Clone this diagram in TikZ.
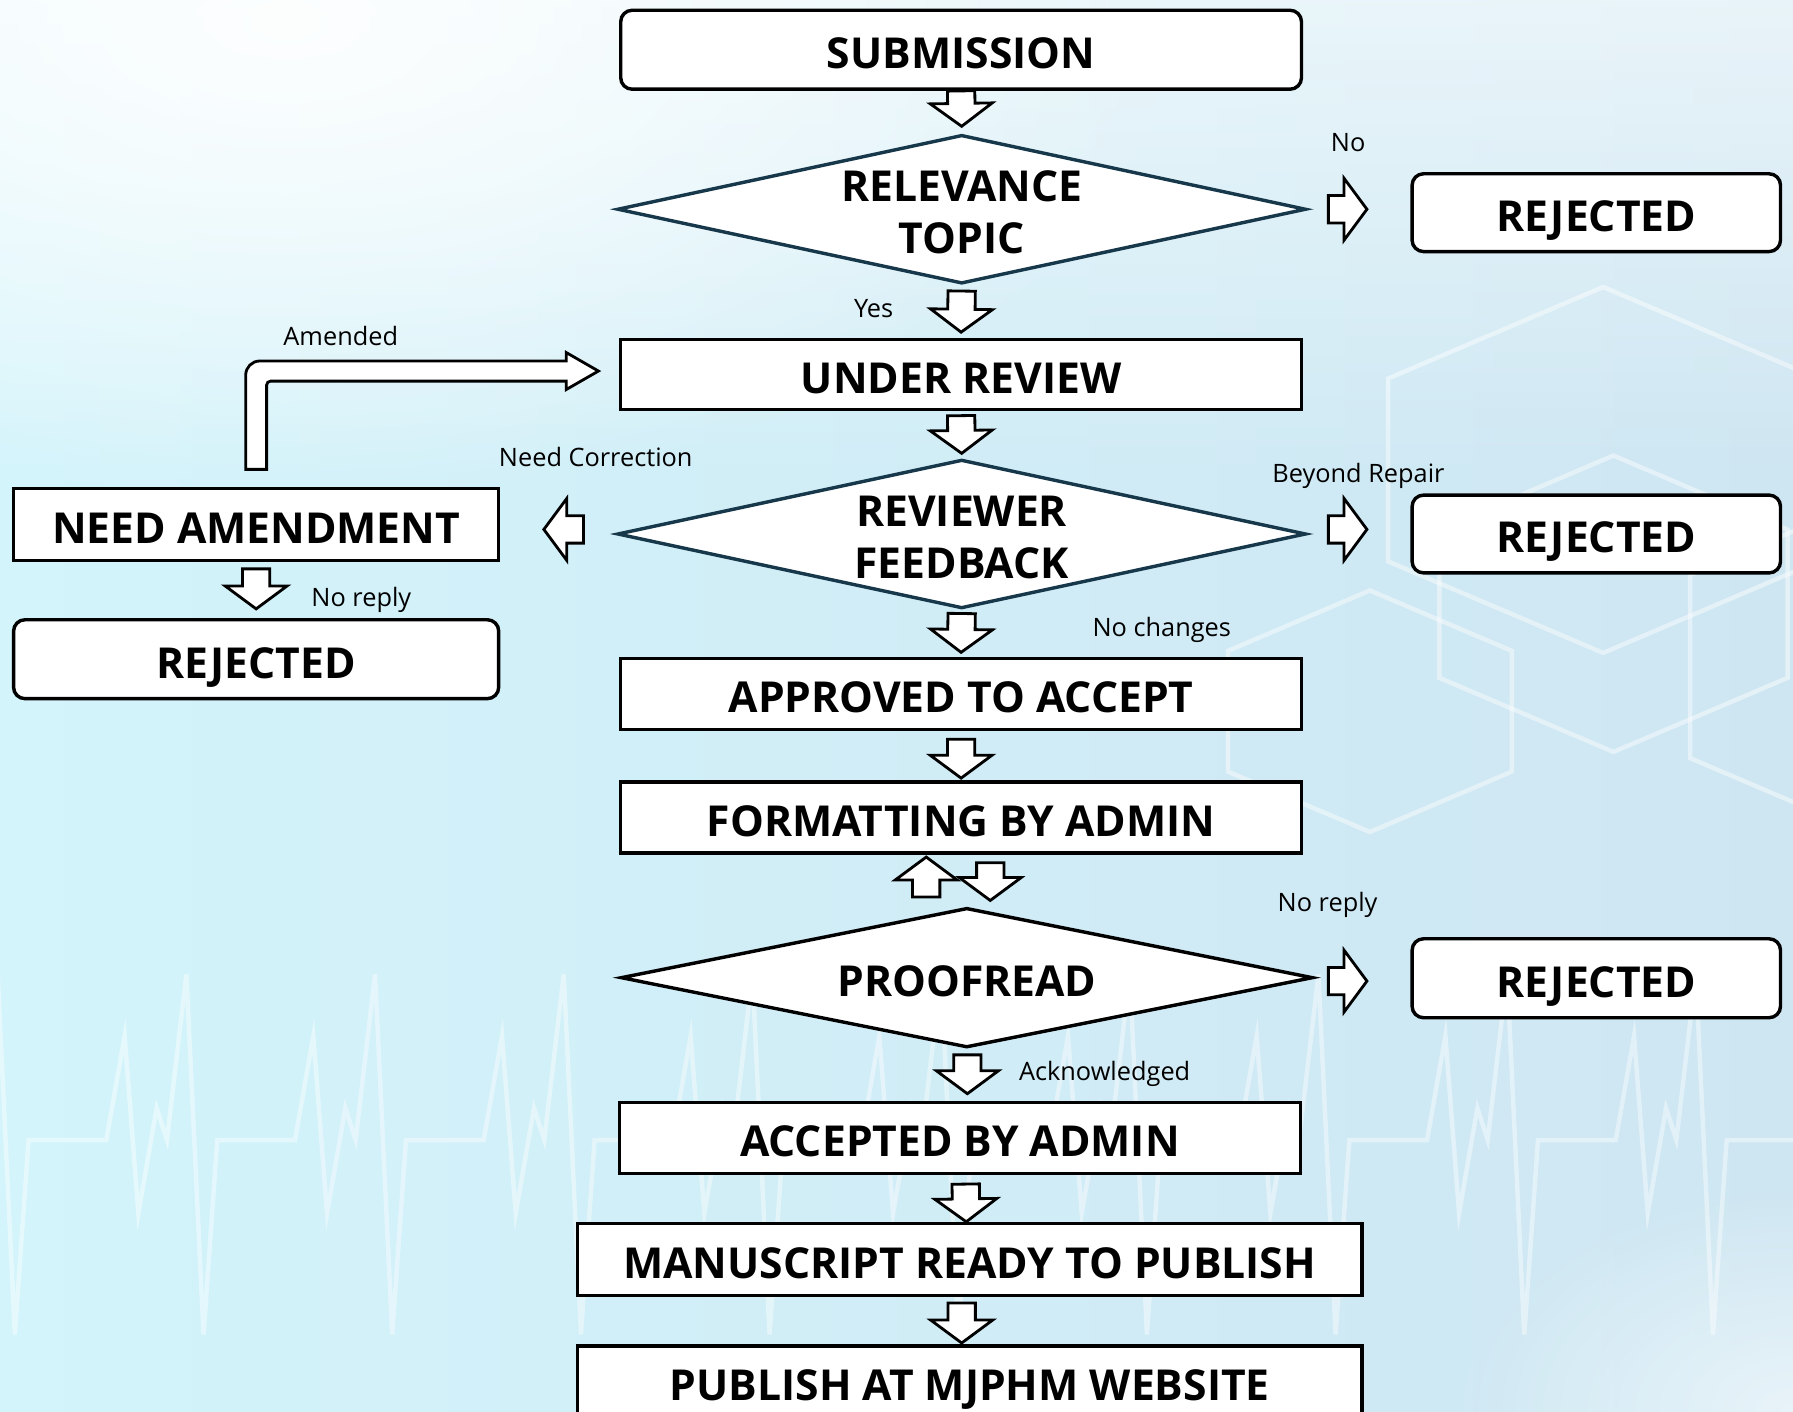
\documentclass[tikz,border=0pt]{standalone}
\usepackage{fontspec}
\setmainfont{Open Sans}
\usetikzlibrary{shapes.geometric,calc,fadings}
\definecolor{dteal}{HTML}{17384A}
\definecolor{bgleft}{HTML}{D3F4FB}
\definecolor{bgright}{HTML}{CEE6F2}
\tikzfading[name=glowfade, inner color=transparent!10, outer color=transparent!100]
\tikzfading[name=topfade, top color=transparent!45, bottom color=transparent!100]
\newcommand\boxfnt{\bfseries\fontsize{10.6}{12.8}\selectfont}
\newcommand\lblfnt{\fontsize{6.3}{7.5}\selectfont}
\newcommand\dstrut{\rule{0pt}{9.2pt}}
\def\aw{3.4}\def\ah{7.7}\def\al{5.7}
\newcommand\barr[2]{%
 \filldraw[barrow] let \p1=#1, \p2=#2,
   \n1={veclen(\x2-\x1,\y2-\y1)},
   \n2={(\x2-\x1)/\n1}, \n3={(\y2-\y1)/\n1}, \n4={\n1-\al} in
   ({\x1-(\n3)*\aw*1pt},{\y1+(\n2)*\aw*1pt})
   -- ({\x1+((\n2)*(\n4)-(\n3)*\aw)*1pt},{\y1+((\n3)*(\n4)+(\n2)*\aw)*1pt})
   -- ({\x1+((\n2)*(\n4)-(\n3)*\ah)*1pt},{\y1+((\n3)*(\n4)+(\n2)*\ah)*1pt})
   -- (\p2)
   -- ({\x1+((\n2)*(\n4)+(\n3)*\ah)*1pt},{\y1+((\n3)*(\n4)-(\n2)*\ah)*1pt})
   -- ({\x1+((\n2)*(\n4)+(\n3)*\aw)*1pt},{\y1+((\n3)*(\n4)-(\n2)*\aw)*1pt})
   -- ({\x1+(\n3)*\aw*1pt},{\y1-(\n2)*\aw*1pt}) -- cycle;}
\newcommand\hexa[3]{\draw[hexl, shift={(#1,#2)}, scale=#3] (0,-160) -- (188,-80) -- (188,80) -- (0,160) -- (-188,80) -- (-188,-80) -- cycle;}
\begin{document}
\begin{tikzpicture}[x=0.01cm,y=-0.01cm,
  box/.style={draw=black, line width=0.85pt, fill=white, inner sep=0pt, font=\boxfnt, minimum height=0.62cm, text height=9.4pt, text depth=0pt},
  rbox/.style={box, rounded corners=0.1cm, minimum height=0.69cm},
  dia/.style={diamond, draw=dteal, line width=0.85pt, fill=white, inner sep=0pt, font=\boxfnt, align=center, aspect=4.63, minimum width=6.02cm, minimum height=1.3cm},
  lbl/.style={font=\lblfnt, inner sep=0pt, text=black},
  barrow/.style={draw=black, fill=white, line width=0.7pt, line join=miter},
  hexl/.style={draw=white, opacity=0.45, line width=1.1pt},
  ecg/.style={draw=white, opacity=0.42, line width=1.1pt, line join=miter}]
\useasboundingbox (0,0) rectangle (1568,1234);
% background
\begin{scope}
\clip (0,0) rectangle (1568,1234);
\shade[left color=bgleft, right color=bgright] (0,0) rectangle (1568,1234);
\fill[white, path fading=topfade] (0,0) rectangle (1568,420);
\fill[white, path fading=glowfade] (250,20) ellipse (800 and 420);
\fill[white, path fading=glowfade, opacity=0.6] (1568,1234) ellipse (300 and 200);
\hexa{1402}{411}{1}
\hexa{1411}{528}{0.81}
\hexa{1666}{583}{1}
\hexa{1198}{622}{0.66}
\draw[ecg] (-140,997) \foreach \k in {1,...,12} { -- ++(68,0) -- ++(16,-91) -- ++(12,155) -- ++(16,-92) -- ++(9,28) -- ++(17,-145) -- ++(15,315) -- ++(12,-170) };
\end{scope}
% nodes
\node[rbox, minimum width=5.95cm] (sub) at (840.5,43.5) {SUBMISSION};
\node[dia] (rel) at (841,183) {\dstrut RELEVANCE\\TOPIC};
\node[rbox, minimum width=3.22cm, minimum height=0.68cm] (rej1) at (1396,186) {REJECTED};
\node[box, minimum width=5.95cm, minimum height=0.61cm] (rev) at (840.5,327.5) {UNDER REVIEW};
\node[dia] (fb) at (841,467) {\dstrut REVIEWER\\FEEDBACK};
\node[box, minimum width=4.24cm, minimum height=0.63cm] (amend) at (224,458.5) {NEED AMENDMENT};
\node[rbox, minimum width=4.24cm] (rej2) at (224,576.5) {REJECTED};
\node[rbox, minimum width=3.22cm, minimum height=0.68cm] (rej3) at (1396,467) {REJECTED};
\node[box, minimum width=5.95cm] (appr) at (840.5,607) {APPROVED TO ACCEPT};
\node[box, minimum width=5.95cm] (fmt) at (840.5,715) {FORMATTING BY ADMIN};
\node[dia, draw=black, aspect=4.96, minimum width=6.05cm, minimum height=1.22cm] (proof) at (845.5,855) {\rule{0pt}{9.4pt}PROOFREAD};
\node[rbox, minimum width=3.22cm] (rej4) at (1396,855.5) {REJECTED};
\node[box, minimum width=5.95cm] (acc) at (839.5,995) {ACCEPTED BY ADMIN};
\node[box, minimum width=6.86cm, minimum height=0.63cm] (man) at (848,1101.5) {MANUSCRIPT READY TO PUBLISH};
\node[box, minimum width=6.86cm, minimum height=0.63cm] (pub) at (848,1208.5) {PUBLISH AT MJPHM WEBSITE};
% labels
\node[lbl] (lno) at (1179,125) {No};
\node[lbl] (lyes) at (764,270) {Yes};
\node[lbl] (lamd) at (298,294) {Amended};
\node[lbl] (lcor) at (521,400) {Need Correction};
\node[lbl] (lbey) at (1188,416) {Beyond Repair};
\node[lbl] (lnr1) at (316,525) {No reply};
\node[lbl] (lnch) at (1016,551) {No changes};
\node[lbl] (lnr2) at (1161,791) {No reply};
\node[lbl] (lack) at (966,939) {Acknowledged};
% block arrows
\barr{(sub.south)}{($(rel.north)+(0,-6)$)}
\barr{($(rel.east)+(18,0)$)}{($(rel.east -| rej1.west)+(-38,0)$)}
\barr{($(rel.south)+(0,5)$)}{($(rev.north)+(0,-5)$)}
\barr{($(rev.south)+(0,4)$)}{($(fb.north)+(0,-4)$)}
\barr{($(fb.west)+(-28,-4)$)}{($(fb.west -| amend.east)+(38,-4)$)}
\barr{($(fb.east)+(18,-4)$)}{($(fb.east -| rej3.west)+(-38,-4)$)}
\barr{($(fb.south)+(0,3)$)}{($(appr.north)+(0,-4)$)}
\barr{($(amend.south)+(0,6)$)}{($(rej2.north)+(0,-8)$)}
\barr{($(appr.south)+(0,7)$)}{($(fmt.north)+(0,-2)$)}
\barr{($(proof.north)+(-35.5,-8)$)}{($(fmt.south)+(-30.5,2)$)}
\barr{($(fmt.south)+(25.5,7)$)}{($(proof.north)+(20.5,-5)$)}
\barr{($(proof.east)+(12,3)$)}{($(proof.east -| rej4.west)+(-38,3)$)}
\barr{($(proof.south)+(0.5,5)$)}{($(proof.south |- acc.north)+(0.5,-6)$)}
\barr{($(acc.south)+(5,8)$)}{($(man.north)+(-3,0)$)}
\barr{($(man.south)+(-7,5)$)}{($(pub.north)+(-7,-1)$)}
% amended bent arrow
\coordinate (amS) at ($(amend.north)+(0,-15)$);
\coordinate (amT) at ($(rev.west)+(-18,-3)$);
\filldraw[barrow] let \p1=(amS), \p2=(amT) in
  (\x1-2.6pt,\y1) [rounded corners=3.5pt] -- (\x1-2.6pt,\y2+2.5pt) [sharp corners] -- (\x2-8pt,\y2+2.5pt)
  -- (\x2-8pt,\y2+4.6pt) -- (\p2) -- (\x2-8pt,\y2-4.6pt) -- (\x2-8pt,\y2-2.5pt)
  [rounded corners=1pt] -- (\x1+2.6pt,\y2-2.5pt) [sharp corners] -- (\x1+2.6pt,\y1) -- cycle;
\end{tikzpicture}
\end{document}
